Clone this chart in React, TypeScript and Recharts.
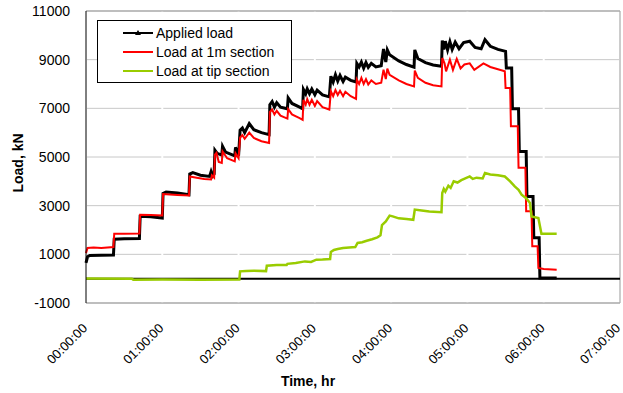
import {
  LineChart,
  Line,
  XAxis,
  YAxis,
  CartesianGrid,
  ReferenceLine,
  Legend,
  Label,
} from "recharts";

// time in hours, load in kN
const appliedTime = [
  0, 0.02, 0.05, 0.2, 0.36, 0.37, 0.5, 0.7, 0.71, 0.85, 1.0, 1.01, 1.05, 1.2, 1.35,
  1.36, 1.4, 1.5, 1.62, 1.64, 1.66, 1.68, 1.69, 1.72, 1.78, 1.79, 1.83, 1.95, 1.96, 2.0,
  2.02, 2.05, 2.08, 2.14, 2.2, 2.3, 2.4, 2.41, 2.44, 2.47, 2.5, 2.55, 2.64, 2.65, 2.7,
  2.8, 2.84, 2.85, 2.88, 2.9, 2.93, 2.96, 3.0, 3.03, 3.1, 3.19, 3.21, 3.24, 3.27, 3.3,
  3.33, 3.37, 3.4, 3.47, 3.54, 3.55, 3.58, 3.61, 3.64, 3.67, 3.7, 3.74, 3.8, 3.87, 3.9,
  3.93, 3.95, 3.98, 4.1, 4.2, 4.3, 4.31, 4.35, 4.45, 4.55, 4.66, 4.67, 4.69, 4.71, 4.74,
  4.77, 4.8, 4.84, 4.89, 4.95, 5.03, 5.1, 5.18, 5.23, 5.3, 5.4, 5.5, 5.51, 5.58, 5.59,
  5.67, 5.68, 5.77, 5.78, 5.86, 5.87, 5.94, 5.95, 6.17,
];
const appliedLoad = [
  650, 900, 950, 960, 970, 1620, 1640, 1650, 2560, 2540, 2490, 3500, 3560, 3520, 3450,
  4300, 4360, 4250, 4200, 4400, 4220, 4300, 5280, 5150, 5080, 5440, 5200, 5050, 5400, 5050,
  6100, 6190, 6000, 6370, 6120, 6000, 5920, 7150, 7280, 7050, 7230, 7050, 6980, 7430, 7200,
  7050, 6980, 7780, 7600, 7800, 7600, 7790, 7560, 7750, 7550, 7470, 8320, 8080, 8380, 8120,
  8350, 8100, 8280, 8150, 8080, 8850, 8700, 8900, 8650, 8880, 8680, 8850, 8700, 8750, 9440,
  8900, 9400, 9200, 8950, 8800, 8690, 9400, 9050, 8880, 8780, 8730, 9790, 9420, 9760, 9400,
  9740, 9420, 9720, 9450, 9700, 9760, 9500, 9450, 9820, 9550, 9420, 9340, 8660, 8660, 6980,
  6980, 5230, 5230, 3380, 3380, 1680, 1680, 30, 30,
];

const sectionTime = [
  0, 0.02, 0.1, 0.2, 0.36, 0.37, 0.5, 0.7, 0.71, 0.85, 1.0, 1.01, 1.1, 1.2, 1.35,
  1.36, 1.45, 1.55, 1.64, 1.65, 1.68, 1.69, 1.71, 1.74, 1.78, 1.79, 1.85, 1.95, 1.96, 2.0,
  2.02, 2.05, 2.08, 2.14, 2.2, 2.3, 2.4, 2.41, 2.44, 2.47, 2.5, 2.55, 2.64, 2.65, 2.7,
  2.8, 2.84, 2.85, 2.88, 2.9, 2.93, 2.96, 3.0, 3.03, 3.1, 3.19, 3.21, 3.24, 3.27, 3.3,
  3.33, 3.37, 3.4, 3.47, 3.54, 3.55, 3.58, 3.61, 3.64, 3.67, 3.7, 3.74, 3.8, 3.87, 3.9,
  3.93, 3.95, 3.98, 4.1, 4.2, 4.3, 4.31, 4.35, 4.45, 4.55, 4.66, 4.67, 4.7, 4.72, 4.77,
  4.81, 4.86, 4.91, 4.96, 5.03, 5.09, 5.21, 5.3, 5.49, 5.5, 5.56, 5.57, 5.66, 5.67, 5.76,
  5.77, 5.84, 5.85, 5.92, 5.93, 6.0, 6.17,
];
const sectionLoad = [
  1050, 1260, 1280, 1260, 1300, 1850, 1850, 1860, 2630, 2620, 2600, 3480, 3460, 3440, 3420,
  4200, 4150, 4100, 4080, 4250, 4150, 5100, 5170, 4800, 4760, 5230, 4950, 4820, 5150, 4950,
  5800, 5900, 5750, 6000, 5780, 5650, 5580, 6850, 6950, 6750, 6900, 6700, 6580, 6970, 6750,
  6600, 6530, 7350, 7150, 7380, 7150, 7350, 7100, 7300, 7050, 6950, 7700, 7500, 7750, 7550,
  7720, 7500, 7680, 7500, 7390, 8180, 8000, 8250, 8000, 8200, 7980, 8150, 8000, 8050, 8590,
  8200, 8630, 8380, 8150, 8000, 7900, 8550, 8250, 8050, 7950, 7900, 9070, 8850, 8520, 9000,
  8580, 9030, 8640, 8800, 8850, 8580, 8850, 8700, 8520, 7840, 7840, 6260, 6260, 4560, 4560,
  2770, 2770, 1330, 1330, 440, 400, 370,
];

const tipTime = [
  0, 0.6, 0.62, 1.0, 1.5, 2.01, 2.02, 2.1, 2.2, 2.36, 2.37, 2.5, 2.63, 2.64, 2.75,
  2.87, 2.95, 3.02, 3.1, 3.2, 3.21, 3.25, 3.3, 3.37, 3.45, 3.53, 3.56, 3.62, 3.68, 3.75,
  3.82, 3.86, 3.88, 3.93, 3.98, 4.02, 4.1, 4.2, 4.29, 4.31, 4.4, 4.5, 4.66, 4.67, 4.69,
  4.71, 4.75, 4.78, 4.82, 4.87, 4.92, 5.03, 5.07, 5.12, 5.2, 5.23, 5.3, 5.4, 5.49, 5.56,
  5.62, 5.67, 5.71, 5.77, 5.82, 5.84, 5.93, 5.97, 6.17,
];
const tipLoad = [
  10, 0, -40, -30, -40, -30, 300, 320, 330, 310, 530, 560, 560, 610, 640,
  710, 690, 780, 790, 810, 1100, 1180, 1220, 1260, 1280, 1300, 1470, 1500, 1560, 1620,
  1700, 1780, 2200, 2350, 2590, 2560, 2480, 2450, 2420, 2840, 2800, 2760, 2730, 3520, 3690,
  3580, 3820, 3730, 4000, 3950, 4050, 4200, 4100, 4150, 4120, 4340, 4280, 4250, 4200, 4000,
  3790, 3650, 3450, 3310, 3110, 2560, 2490, 1850, 1850,
];

const hourTicks = [0, 1, 2, 3, 4, 5, 6, 7];
const loadTicks = [-1000, 1000, 3000, 5000, 7000, 9000, 11000];

const seriesNames = ["Applied load", "Load at 1m section", "Load at tip section"];
const seriesColors = ["#000000", "#FF0000", "#99CC00"];

const toPoints = (ts: number[], vs: number[]) => ts.map((t, i) => ({ t, v: vs[i] }));
const applied = toPoints(appliedTime, appliedLoad);
const section = toPoints(sectionTime, sectionLoad);
const tip = toPoints(tipTime, tipLoad);

const FONT = "'Liberation Sans', Arial, sans-serif";

const TimeTick = (props: any) => {
  const { x, y, payload } = props;
  const h = String(payload.value).padStart(2, "0");
  const ax = x + 2;
  const ay = y + 18;
  return (
    <text
      x={ax}
      y={ay}
      transform={`rotate(-45 ${ax} ${ay})`}
      textAnchor="end"
      fontSize={13}
      fontFamily={FONT}
      fill="#000"
    >
      {`${h}:00:00`}
    </text>
  );
};

const LegendBox = () => (
  <div
    style={{
      border: "1px solid #000",
      background: "#fff",
      padding: "2px 0",
      fontFamily: FONT,
      fontSize: 14,
      color: "#000",
      width: 195,
      boxSizing: "border-box",
    }}
  >
    {seriesNames.map((name, i) => (
      <div key={name} style={{ display: "flex", alignItems: "center", height: 19 }}>
        <svg width={58} height={19} style={{ flex: "none" }}>
          <line x1={25} x2={55} y1={10} y2={10} stroke={seriesColors[i]} strokeWidth={2} />
          {i === 0 && <polygon points="40,7 43,12 37,12" fill="#000" />}
        </svg>
        <span>{name}</span>
      </div>
    ))}
  </div>
);

export default function App() {
  return (
    <div style={{ position: "absolute", left: 0, top: 0, width: 623, height: 393, background: "#fff" }}>
      <LineChart width={623} height={393} margin={{ top: 11, right: 3, left: 0, bottom: 0 }}>
        <CartesianGrid stroke="#C8C8C8" vertical={false} />
        <CartesianGrid stroke="#FFFFFF" strokeWidth={2} horizontal={false} verticalValues={hourTicks} />
        <XAxis
          type="number"
          dataKey="t"
          domain={[0, 7]}
          ticks={hourTicks}
          tick={<TimeTick />}
          tickLine={false}
          axisLine={{ stroke: "#999" }}
          height={90}
          allowDuplicatedCategory={false}
        >
          <Label
            content={(p: any) => {
              const vb = p.viewBox;
              return (
                <text
                  x={vb.x + vb.width / 2 - 45}
                  y={vb.y + 83}
                  textAnchor="middle"
                  fontSize={14}
                  fontWeight="bold"
                  fontFamily={FONT}
                  fill="#000"
                >
                  Time, hr
                </text>
              );
            }}
          />
        </XAxis>
        <YAxis
          type="number"
          domain={[-1000, 11000]}
          ticks={loadTicks}
          tickLine={false}
          axisLine={{ stroke: "#000" }}
          tickMargin={10}
          tick={{ fontSize: 14, fontFamily: FONT, fill: "#000" }}
          width={86}
        >
          <Label
            content={(p: any) => {
              const vb = p.viewBox;
              const lx = vb.x + 18;
              const ly = vb.y + vb.height / 2 + 6;
              return (
                <text
                  x={lx}
                  y={ly}
                  transform={`rotate(-90 ${lx} ${ly})`}
                  textAnchor="middle"
                  dominantBaseline="central"
                  fontSize={14}
                  fontWeight="bold"
                  fontFamily={FONT}
                  fill="#000"
                >
                  Load, kN
                </text>
              );
            }}
          />
        </YAxis>
        <ReferenceLine y={11000} stroke="#999" />
        <ReferenceLine x={7} stroke="#999" />
        <ReferenceLine y={0} stroke="#000" strokeWidth={2} />
        <Legend
          layout="horizontal"
          verticalAlign="middle"
          align="center"
          wrapperStyle={{ left: 97, top: 20, width: 197, height: 58 }}
          content={() => <LegendBox />}
        />
        <Line
          data={applied}
          dataKey="v"
          name={seriesNames[0]}
          type="linear"
          stroke={seriesColors[0]}
          strokeWidth={3}
          dot={false}
          isAnimationActive={false}
        />
        <Line
          data={section}
          dataKey="v"
          name={seriesNames[1]}
          type="linear"
          stroke={seriesColors[1]}
          strokeWidth={2}
          dot={false}
          isAnimationActive={false}
        />
        <Line
          data={tip}
          dataKey="v"
          name={seriesNames[2]}
          type="linear"
          stroke={seriesColors[2]}
          strokeWidth={2.5}
          dot={false}
          isAnimationActive={false}
        />
      </LineChart>
    </div>
  );
}
